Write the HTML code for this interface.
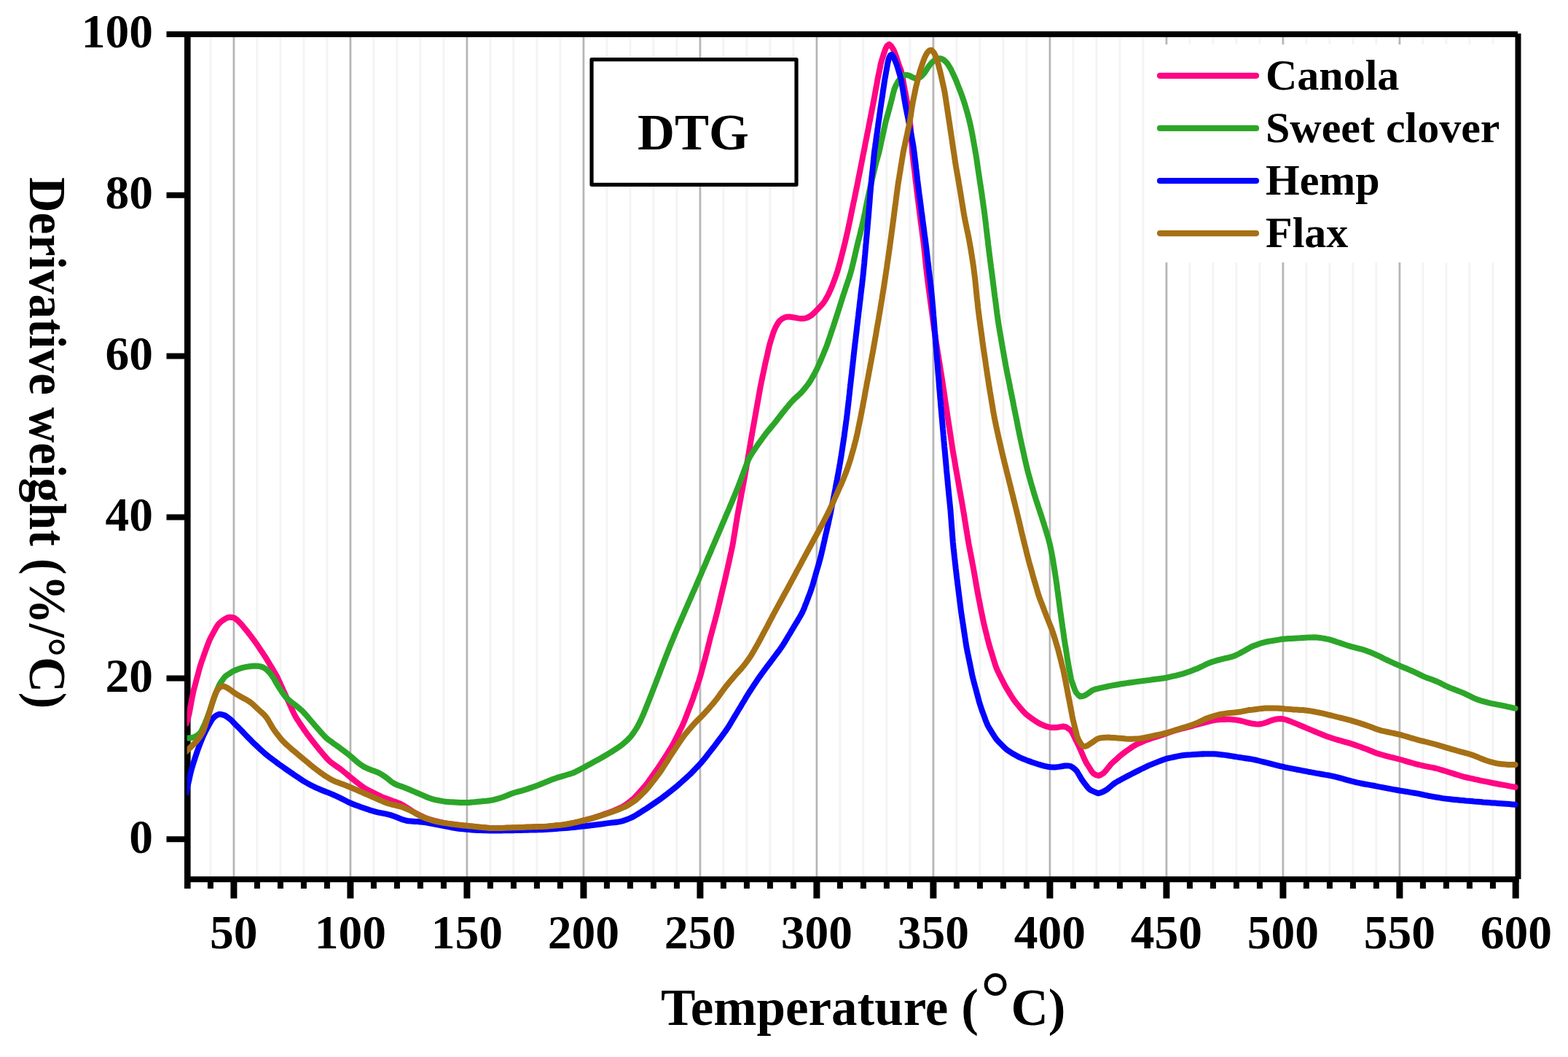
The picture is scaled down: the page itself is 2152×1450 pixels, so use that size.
<!DOCTYPE html>
<html lang="en">
<head>
<meta charset="utf-8">
<title>DTG curves</title>
<style>
html,body{margin:0;padding:0;background:#fff;}
body{width:2152px;height:1450px;overflow:hidden;}
svg{display:block;}
text{font-family:"Liberation Serif","Times New Roman",Times,serif;font-weight:bold;fill:#000;}
.tk{font-size:65.5px;}
.lg{font-size:60px;}
.ax{font-size:71px;}
.ay{font-size:71.5px;}
.dtg{font-size:70.5px;}
.rg{font-weight:normal;}
</style>
</head>
<body>
<svg width="2152" height="1450" viewBox="0 0 2152 1450">
<rect width="2152" height="1450" fill="#fff"/>
<path d="M288.9 50V1203M352.9 50V1203M384.9 50V1203M416.9 50V1203M448.9 50V1203M512.9 50V1203M544.9 50V1203M576.9 50V1203M608.9 50V1203M672.9 50V1203M704.9 50V1203M736.9 50V1203M768.9 50V1203M832.9 50V1203M864.9 50V1203M896.9 50V1203M928.9 50V1203M992.9 50V1203M1024.9 50V1203M1056.9 50V1203M1088.9 50V1203M1152.9 50V1203M1184.9 50V1203M1216.9 50V1203M1248.9 50V1203M1312.9 50V1203M1344.9 50V1203M1376.9 50V1203M1408.9 50V1203M1472.9 50V1203M1504.9 50V1203M1536.9 50V1203M1568.9 50V1203M1632.9 50V1203M1664.9 50V1203M1696.9 50V1203M1728.9 50V1203M1792.9 50V1203M1824.9 50V1203M1856.9 50V1203M1888.9 50V1203M1952.9 50V1203M1984.9 50V1203M2016.9 50V1203M2048.9 50V1203" stroke="#f4f4f4" stroke-width="3" fill="none"/>
<path d="M320.9 50V1203M480.9 50V1203M640.9 50V1203M800.9 50V1203M960.9 50V1203M1120.9 50V1203M1280.9 50V1203M1440.9 50V1203M1600.9 50V1203M1760.9 50V1203M1920.9 50V1203" stroke="#d6d6d6" stroke-width="3.4" fill="none"/>
<path d="M320.9 50V1203M480.9 50V1203M640.9 50V1203M800.9 50V1203M960.9 50V1203M1120.9 50V1203M1280.9 50V1203M1440.9 50V1203M1600.9 50V1203M1760.9 50V1203M1920.9 50V1203" stroke="#a8a8a8" stroke-width="1.4" fill="none"/>
<rect x="1575" y="61" width="501" height="299" fill="#fff"/>
<g stroke="#000" stroke-width="8" fill="none">
<path d="M228.5 46.9H2083"/>
<path d="M257.3 42.9V1219" stroke-width="8.6"/>
<path d="M253 1206.2H2084.5"/>
<path d="M2083.5 45.9V1206"/>
<path d="M228.5 1151.3H257M228.5 930.4H257M228.5 709.5H257M228.5 488.6H257M228.5 267.7H257"/>
<path d="M288.9 1206V1219M352.9 1206V1219M384.9 1206V1219M416.9 1206V1219M448.9 1206V1219M512.9 1206V1219M544.9 1206V1219M576.9 1206V1219M608.9 1206V1219M672.9 1206V1219M704.9 1206V1219M736.9 1206V1219M768.9 1206V1219M832.9 1206V1219M864.9 1206V1219M896.9 1206V1219M928.9 1206V1219M992.9 1206V1219M1024.9 1206V1219M1056.9 1206V1219M1088.9 1206V1219M1152.9 1206V1219M1184.9 1206V1219M1216.9 1206V1219M1248.9 1206V1219M1312.9 1206V1219M1344.9 1206V1219M1376.9 1206V1219M1408.9 1206V1219M1472.9 1206V1219M1504.9 1206V1219M1536.9 1206V1219M1568.9 1206V1219M1632.9 1206V1219M1664.9 1206V1219M1696.9 1206V1219M1728.9 1206V1219M1792.9 1206V1219M1824.9 1206V1219M1856.9 1206V1219M1888.9 1206V1219M1952.9 1206V1219M1984.9 1206V1219M2016.9 1206V1219M2048.9 1206V1219"/>
<path d="M320.9 1206V1232.6M480.9 1206V1232.6M640.9 1206V1232.6M800.9 1206V1232.6M960.9 1206V1232.6M1120.9 1206V1232.6M1280.9 1206V1232.6M1440.9 1206V1232.6M1600.9 1206V1232.6M1760.9 1206V1232.6M1920.9 1206V1232.6M2080.2 1206V1232.6" stroke-width="9"/>
</g>
<clipPath id="pc"><rect x="256.6" y="40" width="1850" height="1170"/></clipPath>
<g fill="none" stroke-width="8.0" stroke-linecap="round" stroke-linejoin="round" clip-path="url(#pc)">
<path d="M255.5 993L256.8 989.2L258 985.4L259 981.5L259.9 977.6L260.6 973.7L261.3 969.8L262.1 965.8L262.8 961.9L263.5 958L264.3 954L265.1 950.1L266 946.2L267 942.4L268.1 938.5L269.1 934.6L270.1 930.8L271.2 926.9L272.2 923L273.2 919.2L274.3 915.3L275.5 911.5L276.7 907.7L278.1 903.9L279.4 900.2L280.7 896.4L282.1 892.6L283.4 888.9L284.8 885.1L286.2 881.4L287.7 877.7L289.5 874.1L291.4 870.6L293.3 867.1L295.2 863.6L297.2 860.1L299.4 856.8L302 854L305.1 851.5L308.4 849.3L311.8 847.5L315.5 846.7L319.2 846.9L322.6 848.3L325.6 850.7L328.4 853.5L331.2 856.4L333.8 859.4L336.3 862.5L338.8 865.6L341.3 868.8L343.7 871.9L346.2 875.1L348.6 878.3L350.9 881.5L353.2 884.8L355.4 888.1L357.6 891.5L359.9 894.8L362.1 898.1L364.3 901.5L366.4 904.9L368.5 908.3L370.5 911.7L372.6 915.1L374.6 918.6L376.7 922L378.7 925.5L380.6 929L382.3 932.6L384 936.2L385.6 939.9L387.3 943.5L388.9 947.2L390.6 950.8L392.2 954.4L393.9 958.1L395.6 961.7L397.2 965.4L398.9 969L400.5 972.7L402.2 976.3L403.9 979.9L405.8 983.4L407.9 986.8L410.1 990.1L412.3 993.5L414.5 996.8L416.8 1000.1L419 1003.4L421.4 1006.7L423.8 1009.8L426.2 1013L428.7 1016.2L431.1 1019.3L433.6 1022.5L436.1 1025.6L438.6 1028.7L441.2 1031.8L443.8 1034.8L446.4 1037.9L449 1040.9L451.8 1043.7L454.8 1046.3L458 1048.6L461.3 1050.9L464.6 1053.1L467.9 1055.5L471 1058L474.1 1060.5L477.2 1063.1L480.2 1065.6L483.3 1068.1L486.5 1070.6L489.6 1073.1L492.8 1075.6L495.9 1078L499.2 1080.3L502.6 1082.4L506.1 1084.3L509.7 1086.1L513.2 1087.9L516.8 1089.7L520.4 1091.4L524 1093.1L527.7 1094.6L531.5 1096L535.2 1097.3L539 1098.7L542.8 1100L546.5 1101.4L550.2 1103L553.6 1104.9L557 1107.1L560.4 1109.2L563.7 1111.4L567.1 1113.6L570.6 1115.6L574.1 1117.4L577.7 1119.1L581.3 1120.8L585 1122.4L588.7 1123.8L592.5 1124.9L596.4 1125.9L600.3 1126.8L604.2 1127.8L608.1 1128.7L612 1129.5L616 1130.1L619.9 1130.6L623.9 1131L627.9 1131.5L631.8 1131.9L635.8 1132.4L639.8 1132.8L643.8 1133.3L647.8 1133.7L651.7 1134.1L655.7 1134.5L659.7 1134.9L663.7 1135.2L667.7 1135.6L671.7 1135.9L675.6 1136.1L679.6 1136.1L683.6 1136.1L687.6 1136L691.6 1135.9L695.6 1135.8L699.6 1135.7L703.6 1135.6L707.6 1135.4L711.6 1135.3L715.6 1135.1L719.6 1135L723.6 1134.8L727.6 1134.7L731.6 1134.6L735.6 1134.4L739.6 1134.3L743.6 1134.2L747.6 1134L751.6 1133.8L755.6 1133.4L759.6 1133L763.5 1132.6L767.5 1132.2L771.5 1131.8L775.5 1131.3L779.4 1130.5L783.3 1129.7L787.2 1128.9L791.1 1128L795 1127L798.9 1126L802.8 1125.1L806.6 1124.1L810.5 1123.1L814.3 1122L818.1 1120.7L821.9 1119.5L825.7 1118.2L829.5 1116.9L833.3 1115.6L837.1 1114.2L840.8 1112.8L844.5 1111.2L848.1 1109.6L851.8 1108L855.3 1106.2L858.6 1104L861.8 1101.6L865 1099.2L868.1 1096.7L871.1 1094L873.8 1091.1L876.5 1088.1L879.1 1085.1L881.8 1082.1L884.4 1079.1L887 1076L889.4 1072.9L891.7 1069.6L894 1066.4L896.3 1063.1L898.6 1059.8L900.9 1056.5L903.2 1053.3L905.5 1049.9L907.6 1046.6L909.8 1043.2L912 1039.9L914.1 1036.5L916.3 1033.1L918.4 1029.7L920.5 1026.3L922.6 1022.9L924.5 1019.4L926.3 1015.9L928.1 1012.3L929.9 1008.7L931.7 1005.1L933.5 1001.5L935.3 998L937 994.4L938.6 990.7L940.1 987L941.6 983.3L943 979.5L944.4 975.8L945.9 972.1L947.3 968.3L948.7 964.6L950.1 960.8L951.5 957.1L952.7 953.3L954 949.5L955.3 945.7L956.5 941.9L957.8 938.1L959.1 934.3L960.3 930.5L961.4 926.7L962.5 922.8L963.5 918.9L964.6 915.1L965.6 911.2L966.7 907.4L967.7 903.5L968.7 899.6L969.7 895.7L970.7 891.9L971.6 888L972.6 884.1L973.6 880.2L974.5 876.3L975.5 872.5L976.6 868.6L977.6 864.7L978.7 860.9L979.7 857L980.8 853.2L981.8 849.3L982.8 845.4L983.8 841.6L984.8 837.7L985.7 833.8L986.6 829.9L987.6 826L988.5 822.1L989.4 818.2L990.4 814.3L991.3 810.4L992.2 806.5L993.2 802.7L994.1 798.8L995 794.9L995.9 791L996.8 787.1L997.7 783.2L998.6 779.3L999.4 775.4L1000.3 771.5L1001.2 767.5L1002 763.6L1002.9 759.7L1003.8 755.8L1004.6 751.9L1005.4 748L1006.1 744.1L1006.8 740.1L1007.4 736.2L1008.1 732.2L1008.7 728.3L1009.4 724.3L1010 720.4L1010.6 716.4L1011.3 712.5L1011.9 708.5L1012.6 704.6L1013.3 700.7L1014.1 696.7L1014.8 692.8L1015.5 688.9L1016.3 684.9L1017 681L1017.7 677.1L1018.5 673.1L1019.2 669.2L1019.9 665.3L1020.7 661.3L1021.4 657.4L1022.1 653.5L1022.8 649.5L1023.5 645.6L1024.2 641.6L1024.9 637.7L1025.6 633.8L1026.3 629.8L1026.9 625.9L1027.6 621.9L1028.3 618L1028.9 614L1029.6 610.1L1030.2 606.1L1030.9 602.2L1031.6 598.3L1032.3 594.3L1033 590.4L1033.7 586.4L1034.4 582.5L1035.1 578.6L1035.8 574.6L1036.5 570.7L1037.2 566.8L1037.9 562.8L1038.6 558.9L1039.3 554.9L1040 551L1040.7 547.1L1041.4 543.1L1042.1 539.2L1042.8 535.2L1043.5 531.3L1044.3 527.4L1045.1 523.5L1045.9 519.6L1046.7 515.6L1047.6 511.7L1048.4 507.8L1049.2 503.9L1050 500L1050.9 496.1L1051.8 492.2L1052.7 488.3L1053.6 484.4L1054.4 480.5L1055.3 476.6L1056.3 472.7L1057.4 468.8L1058.6 465L1059.8 461.2L1061 457.4L1062.4 453.6L1064 450L1065.8 446.5L1067.8 443L1070.1 440L1073.1 437.5L1076.5 435.7L1080.2 434.7L1084 434.6L1087.9 435.2L1091.9 435.9L1095.8 436.6L1099.7 437.1L1103.5 437L1107.3 436L1110.8 434.4L1114.1 432.2L1117 429.6L1119.8 426.7L1122.6 423.8L1125.3 420.9L1128 418L1130.5 414.9L1132.7 411.6L1134.7 408.1L1136.6 404.6L1138.3 401L1139.9 397.3L1141.5 393.7L1143 389.9L1144.4 386.2L1145.8 382.5L1147.1 378.7L1148.4 374.9L1149.6 371.1L1150.7 367.3L1151.8 363.4L1152.9 359.6L1153.9 355.7L1154.9 351.8L1155.9 348L1156.9 344.1L1157.9 340.2L1158.8 336.3L1159.8 332.4L1160.7 328.5L1161.6 324.6L1162.5 320.7L1163.4 316.8L1164.2 312.9L1165 309L1165.9 305.1L1166.7 301.2L1167.5 297.3L1168.3 293.3L1169.1 289.4L1169.9 285.5L1170.7 281.6L1171.5 277.7L1172.4 273.8L1173.2 269.8L1174 265.9L1174.8 262L1175.6 258.1L1176.4 254.2L1177.2 250.2L1177.9 246.3L1178.7 242.4L1179.5 238.5L1180.3 234.5L1181 230.6L1181.8 226.7L1182.6 222.8L1183.4 218.8L1184.1 214.9L1184.9 211L1185.7 207.1L1186.5 203.1L1187.2 199.2L1188 195.3L1188.8 191.4L1189.6 187.4L1190.3 183.5L1191.1 179.6L1191.9 175.7L1192.6 171.7L1193.4 167.8L1194.2 163.9L1194.9 160L1195.7 156L1196.5 152.1L1197.2 148.2L1198 144.3L1198.7 140.3L1199.5 136.4L1200.2 132.5L1200.9 128.5L1201.6 124.6L1202.3 120.6L1203.1 116.7L1203.8 112.8L1204.5 108.8L1205.3 104.9L1206.1 101L1206.9 97.1L1207.7 93.2L1208.4 89.2L1209.4 85.3L1210.5 81.5L1211.7 77.7L1212.9 73.9L1214.2 70.1L1215.6 66.4L1217.4 62.9L1220.1 60.8L1222.9 62.9L1225.1 66.2L1227 69.7L1228.5 73.4L1229.9 77.2L1231.1 81L1232.3 84.8L1233.6 88.6L1235 92.3L1236.4 96L1237.5 99.9L1238.3 103.8L1239 107.7L1239.7 111.7L1240.4 115.6L1241.1 119.5L1241.8 123.5L1242.6 127.4L1243.3 131.3L1244 135.3L1244.7 139.2L1245.5 143.2L1246.2 147.1L1246.8 151L1247.3 155L1247.8 159L1248.3 162.9L1248.8 166.9L1249.3 170.9L1249.7 174.9L1250 178.9L1250.3 182.8L1250.6 186.8L1250.8 190.8L1251.1 194.8L1251.4 198.8L1251.6 202.8L1251.9 206.8L1252.3 210.8L1252.8 214.7L1253.2 218.7L1253.7 222.7L1254.2 226.7L1254.6 230.6L1255.1 234.6L1255.6 238.6L1256 242.6L1256.5 246.5L1257 250.5L1257.5 254.5L1257.9 258.4L1258.4 262.4L1258.9 266.4L1259.4 270.4L1259.9 274.3L1260.4 278.3L1260.9 282.3L1261.4 286.2L1261.9 290.2L1262.4 294.2L1262.9 298.1L1263.4 302.1L1263.9 306.1L1264.5 310L1265 314L1265.5 318L1266 321.9L1266.6 325.9L1267.1 329.9L1267.6 333.8L1268 337.8L1268.5 341.8L1268.9 345.8L1269.3 349.8L1269.7 353.7L1270.1 357.7L1270.5 361.7L1270.9 365.7L1271.4 369.6L1271.8 373.6L1272.3 377.6L1272.8 381.6L1273.3 385.5L1273.8 389.5L1274.3 393.5L1274.8 397.4L1275.4 401.4L1275.9 405.4L1276.4 409.3L1276.9 413.3L1277.5 417.3L1278 421.2L1278.5 425.2L1279.1 429.2L1279.6 433.1L1280.1 437.1L1280.6 441.1L1281.2 445L1281.7 449L1282.3 452.9L1282.9 456.9L1283.5 460.9L1284.1 464.8L1284.7 468.8L1285.3 472.7L1286 476.7L1286.6 480.6L1287.2 484.6L1287.9 488.5L1288.5 492.5L1289.1 496.4L1289.8 500.4L1290.4 504.3L1291 508.3L1291.6 512.2L1292.3 516.2L1292.9 520.1L1293.5 524.1L1294.1 528L1294.7 532L1295.3 535.9L1295.9 539.9L1296.5 543.9L1297 547.8L1297.6 551.8L1298.2 555.7L1298.8 559.7L1299.4 563.6L1300 567.6L1300.6 571.6L1301.2 575.5L1301.8 579.5L1302.4 583.4L1303 587.4L1303.6 591.3L1304.2 595.3L1304.8 599.2L1305.4 603.2L1306 607.2L1306.6 611.1L1307.2 615.1L1307.8 619L1308.5 623L1309.2 626.9L1309.9 630.8L1310.6 634.8L1311.2 638.7L1311.9 642.7L1312.6 646.6L1313.3 650.5L1314 654.5L1314.7 658.4L1315.4 662.4L1316.1 666.3L1316.8 670.2L1317.5 674.2L1318.2 678.1L1318.9 682.1L1319.6 686L1320.3 689.9L1321 693.9L1321.6 697.8L1322.3 701.8L1323 705.7L1323.6 709.7L1324.2 713.6L1324.9 717.6L1325.5 721.5L1326.1 725.5L1326.8 729.4L1327.4 733.4L1328.1 737.3L1328.7 741.3L1329.4 745.2L1330.1 749.1L1330.9 753.1L1331.6 757L1332.4 760.9L1333.1 764.8L1333.9 768.8L1334.6 772.7L1335.4 776.6L1336.1 780.6L1336.8 784.5L1337.5 788.5L1338.2 792.4L1338.9 796.3L1339.5 800.3L1340.2 804.2L1340.9 808.2L1341.6 812.1L1342.4 816L1343.1 820L1343.9 823.9L1344.7 827.8L1345.4 831.7L1346.2 835.7L1347 839.6L1347.8 843.5L1348.6 847.4L1349.4 851.3L1350.2 855.2L1351.2 859.1L1352.1 863L1353.1 866.9L1354.1 870.8L1355 874.7L1356 878.5L1357 882.4L1358.1 886.3L1359.2 890.1L1360.4 893.9L1361.6 897.8L1362.8 901.6L1363.9 905.4L1365.1 909.2L1366.3 913L1367.7 916.8L1369.3 920.4L1371 924L1372.8 927.6L1374.6 931.2L1376.4 934.8L1378.2 938.3L1380.1 941.9L1382.1 945.3L1384.2 948.7L1386.3 952.1L1388.4 955.5L1390.6 958.9L1392.9 962.1L1395.4 965.3L1397.9 968.3L1400.5 971.4L1403.1 974.4L1405.8 977.3L1408.7 980.1L1411.8 982.5L1415.1 984.9L1418.3 987.2L1421.6 989.5L1425 991.6L1428.5 993.4L1432.2 995L1435.9 996.4L1439.7 997.5L1443.6 998.1L1447.5 998.1L1451.5 997.7L1455.4 997.1L1459.2 996.5L1462.8 997.2L1466.1 999.3L1469.2 1001.7L1471.5 1004.9L1473.3 1008.5L1475 1012.1L1476.8 1015.7L1478.6 1019.2L1480.3 1022.8L1482 1026.5L1483.6 1030.2L1485.1 1033.8L1486.7 1037.5L1488.3 1041.2L1490 1044.8L1492 1048.3L1494.2 1051.6L1496.3 1055L1498.4 1058.4L1501 1061.3L1504.4 1063.2L1508 1064.1L1511.5 1062.5L1514.8 1060.4L1517.5 1057.4L1520 1054.3L1522.5 1051.2L1525 1048.1L1527.9 1045.4L1530.9 1042.7L1533.9 1040L1536.9 1037.3L1539.9 1034.7L1543.1 1032.3L1546.3 1030L1549.6 1027.7L1552.9 1025.4L1556.2 1023.2L1559.7 1021.2L1563.3 1019.5L1567 1018L1570.6 1016.4L1574.3 1014.9L1578.1 1013.6L1581.9 1012.3L1585.7 1011.1L1589.5 1009.9L1593.4 1008.7L1597.1 1007.5L1600.9 1006.1L1604.7 1004.8L1608.5 1003.5L1612.3 1002.2L1616.1 1001.1L1620 1000.1L1623.9 999.2L1627.7 998.2L1631.6 997.2L1635.5 996.1L1639.3 995L1643.2 994L1647 992.9L1650.9 991.8L1654.8 990.8L1658.6 989.8L1662.5 988.9L1666.1 988L1669.4 987.5L1672.6 987.3L1676.2 987.1L1680.2 986.9L1684.1 986.8L1688.1 986.8L1692.1 987.2L1696.1 987.6L1700 988.2L1703.9 989L1707.8 990L1711.7 991.1L1715.5 992L1719.5 992.8L1723.4 993.3L1727.3 993.4L1731.2 993L1735 992L1738.8 990.7L1742.5 989.2L1746.3 987.9L1750.1 986.8L1754 986.3L1758 986.1L1761.8 986.5L1765.6 987.5L1769.4 988.9L1773.1 990.4L1776.8 991.9L1780.5 993.4L1784.2 995L1787.9 996.5L1791.6 998.1L1795.2 999.6L1798.9 1001.1L1802.6 1002.7L1806.3 1004.2L1810 1005.8L1813.7 1007.3L1817.4 1008.8L1821.2 1010.2L1825 1011.5L1828.7 1012.7L1832.6 1014L1836.4 1015.1L1840.2 1016.2L1844.1 1017.3L1847.9 1018.3L1851.8 1019.4L1855.6 1020.6L1859.4 1021.9L1863.2 1023.2L1867 1024.5L1870.7 1025.9L1874.5 1027.3L1878.2 1028.8L1881.9 1030.3L1885.6 1031.8L1889.3 1033.2L1893.1 1034.4L1897 1035.5L1900.8 1036.6L1904.7 1037.6L1908.6 1038.6L1912.5 1039.5L1916.3 1040.5L1920.2 1041.5L1924.1 1042.5L1927.9 1043.7L1931.7 1044.8L1935.6 1045.9L1939.4 1047L1943.3 1048.1L1947.2 1049L1951.1 1050L1955 1050.9L1958.9 1051.6L1962.8 1052.4L1966.7 1053.1L1970.6 1054L1974.5 1055L1978.3 1056.2L1982.2 1057.3L1986 1058.5L1989.8 1059.7L1993.6 1060.9L1997.4 1062.1L2001.2 1063.3L2005.1 1064.5L2008.9 1065.6L2012.8 1066.5L2016.7 1067.4L2020.6 1068.2L2024.5 1069.1L2028.4 1069.9L2032.3 1070.8L2036.3 1071.6L2040.2 1072.4L2044.1 1073.2L2048 1074L2051.9 1074.7L2055.9 1075.5L2059.8 1076.2L2063.7 1076.9L2067.7 1077.6L2071.6 1078.4L2075.6 1079.1L2079.5 1079.8" stroke="#ff0584"/>
<path d="M255 1012.5L259 1012.5L262.9 1012.1L266.6 1011.1L270 1009.3L273.1 1007L275.6 1004.1L277.5 1000.6L279.2 997L280.9 993.4L282.5 989.7L283.9 986L285.3 982.2L286.6 978.5L288 974.7L289.3 970.9L290.5 967.1L291.8 963.3L293.1 959.5L294.3 955.8L295.7 952L297.3 948.3L298.8 944.6L300.4 940.9L302.2 937.4L304.5 934.1L306.8 930.8L309.3 927.8L312.5 925.5L315.9 923.3L319.2 921.2L322.9 919.5L326.6 918L330.3 916.7L334.2 915.7L338.1 914.9L342 914.3L346 913.7L349.9 913.5L353.9 913.7L357.8 914.4L361.4 915.6L364.7 917.6L367.6 920.2L370.4 923.1L372.8 926.2L375 929.5L377 932.9L379 936.4L381 939.9L383.1 943.3L385.3 946.6L387.5 950L389.8 953.3L392.2 956.4L395 959.1L398.1 961.7L401.2 964.1L404.4 966.6L407.5 969L410.6 971.6L413.7 974.2L416.5 977L419.2 979.9L421.8 982.9L424.4 986L427 989L429.6 992L432.2 995.1L434.9 998.1L437.5 1001.1L440.1 1004.1L442.8 1007.1L445.5 1010L448.4 1012.8L451.5 1015.3L454.7 1017.6L457.9 1020L461.2 1022.3L464.4 1024.6L467.7 1027L470.9 1029.4L474.1 1031.8L477.2 1034.2L480.4 1036.7L483.4 1039.3L486.4 1042L489.4 1044.6L492.5 1047.1L495.7 1049.4L499.1 1051.6L502.6 1053.4L506.3 1055L510 1056.4L513.8 1057.8L517.5 1059.2L521.1 1060.9L524.5 1062.9L527.9 1065.1L531.1 1067.4L534.2 1069.9L537.3 1072.5L540.6 1074.6L544.1 1076.4L547.8 1077.8L551.6 1079.1L555.4 1080.5L559.1 1082L562.8 1083.5L566.4 1085.1L570.1 1086.7L573.8 1088.2L577.5 1089.8L581.2 1091.4L584.8 1093L588.5 1094.5L592.3 1095.8L596.1 1096.8L600 1097.7L604 1098.4L607.9 1099.1L611.8 1099.7L615.8 1100.1L619.8 1100.3L623.8 1100.5L627.8 1100.7L631.8 1100.9L635.8 1101L639.8 1101L643.8 1100.9L647.8 1100.5L651.7 1100.2L655.7 1099.8L659.7 1099.4L663.7 1099L667.7 1098.7L671.6 1098.2L675.6 1097.6L679.5 1096.7L683.3 1095.6L687.1 1094.5L690.9 1093.2L694.7 1091.8L698.4 1090.3L702.1 1088.8L705.8 1087.5L709.7 1086.4L713.5 1085.4L717.4 1084.3L721.2 1083.2L725 1081.9L728.8 1080.6L732.6 1079.3L736.3 1077.9L740.1 1076.5L743.8 1075L747.5 1073.5L751.2 1072L754.9 1070.5L758.6 1069.1L762.4 1067.7L766.2 1066.4L770 1065.3L773.9 1064.2L777.7 1063L781.5 1061.9L785.3 1060.7L789 1059.2L792.6 1057.4L796.1 1055.6L799.6 1053.7L803.2 1051.7L806.7 1049.8L810.2 1047.9L813.7 1046L817.2 1044.1L820.7 1042.2L824.2 1040.2L827.7 1038.2L831.1 1036.2L834.6 1034.2L838 1032.1L841.4 1030L844.7 1027.8L848.1 1025.6L851.4 1023.4L854.6 1020.9L857.6 1018.3L860.6 1015.7L863.4 1012.9L866.1 1009.9L868.5 1006.7L870.7 1003.4L872.9 1000.1L875 996.7L876.8 993.2L878.6 989.6L880.3 985.9L881.9 982.3L883.5 978.6L885 974.9L886.5 971.2L888 967.5L889.5 963.8L891 960.1L892.4 956.4L893.9 952.6L895.3 948.9L896.8 945.2L898.2 941.4L899.7 937.7L901.1 934L902.5 930.2L904 926.5L905.4 922.8L906.8 919L908.3 915.3L909.7 911.6L911.1 907.8L912.6 904.1L914 900.4L915.5 896.6L916.9 892.9L918.4 889.2L919.9 885.5L921.4 881.8L923 878.1L924.5 874.4L926 870.7L927.6 867L929.1 863.3L930.7 859.6L932.3 856L933.9 852.3L935.5 848.6L937.1 845L938.7 841.3L940.3 837.6L941.9 834L943.5 830.3L945.1 826.7L946.7 823L948.3 819.3L949.9 815.7L951.5 812L953.2 808.3L954.8 804.7L956.3 801L957.9 797.3L959.5 793.7L961.1 790L962.7 786.3L964.2 782.6L965.8 778.9L967.4 775.3L969 771.6L970.5 767.9L972.1 764.2L973.7 760.6L975.3 756.9L976.8 753.2L978.4 749.5L980 745.9L981.6 742.2L983.1 738.5L984.7 734.8L986.3 731.1L987.9 727.5L989.4 723.8L991 720.1L992.6 716.4L994.2 712.8L995.7 709.1L997.3 705.4L998.9 701.7L1000.5 698L1002 694.4L1003.6 690.7L1005.1 687L1006.6 683.3L1008.2 679.6L1009.7 675.9L1011.2 672.2L1012.7 668.5L1014.2 664.8L1015.6 661L1017 657.3L1018.4 653.5L1019.8 649.8L1021.2 646L1022.6 642.3L1024 638.6L1025.5 634.8L1026.9 631.1L1028.7 627.5L1030.7 624.1L1032.8 620.7L1035.1 617.4L1037.3 614.1L1039.6 610.8L1041.9 607.5L1044.2 604.3L1046.6 601L1048.9 597.8L1051.3 594.6L1053.8 591.5L1056.4 588.4L1058.9 585.4L1061.5 582.3L1064 579.2L1066.5 576L1068.9 572.8L1071.3 569.7L1073.8 566.5L1076.3 563.4L1078.8 560.3L1081.4 557.2L1083.9 554.1L1086.6 551.1L1089.3 548.2L1092.2 545.5L1095.2 542.8L1098.1 540.1L1100.9 537.2L1103.5 534.2L1106 531.1L1108.5 527.9L1110.8 524.7L1112.9 521.3L1114.9 517.8L1116.9 514.4L1118.8 510.9L1120.6 507.3L1122.3 503.7L1123.9 500L1125.5 496.3L1127.1 492.7L1128.6 489L1130.2 485.3L1131.7 481.6L1133.2 477.9L1134.7 474.2L1136 470.4L1137.3 466.6L1138.6 462.8L1139.9 459L1141.1 455.3L1142.4 451.5L1143.7 447.7L1144.9 443.9L1146.2 440.1L1147.4 436.3L1148.6 432.5L1149.9 428.6L1151.1 424.8L1152.3 421L1153.5 417.2L1154.7 413.4L1155.9 409.6L1157.1 405.8L1158.4 402L1159.6 398.2L1160.8 394.4L1162.1 390.6L1163.4 386.8L1164.7 383L1165.9 379.2L1167.1 375.4L1168.2 371.5L1169.2 367.7L1170.1 363.8L1171.1 359.9L1172 356L1172.9 352.1L1173.8 348.2L1174.7 344.3L1175.6 340.4L1176.5 336.5L1177.5 332.6L1178.4 328.8L1179.4 324.9L1180.4 321L1181.3 317.1L1182.3 313.2L1183.2 309.3L1184.1 305.5L1185 301.6L1185.8 297.6L1186.7 293.7L1187.5 289.8L1188.2 285.9L1189 282L1189.8 278L1190.6 274.1L1191.4 270.2L1192.2 266.3L1193.1 262.4L1194 258.5L1194.9 254.6L1195.8 250.7L1196.7 246.8L1197.6 242.9L1198.6 239L1199.5 235.1L1200.5 231.2L1201.4 227.3L1202.3 223.5L1203.4 219.6L1204.5 215.7L1205.6 211.9L1206.6 208L1207.5 204.1L1208.4 200.2L1209.2 196.3L1210 192.4L1210.9 188.5L1211.7 184.6L1212.6 180.7L1213.4 176.8L1214.3 172.9L1215.1 169L1216.1 165.1L1217.2 161.2L1218.3 157.4L1219.3 153.5L1220.4 149.7L1221.4 145.8L1222.4 141.9L1223.4 138L1224.4 134.2L1225.3 130.3L1226.3 126.4L1227.3 122.5L1228.8 118.9L1230.6 115.3L1232.5 111.8L1234.9 108.5L1237.4 105.5L1240.8 103.5L1244.5 102.8L1248.3 103.8L1251.7 105.8L1255.2 107.2L1259.1 106.9L1262.9 106L1265.8 103.5L1268.4 100.5L1270.7 97.2L1272.8 93.8L1275 90.5L1277.5 87.4L1280.3 84.5L1283.4 82L1286.9 80.4L1290.7 80.2L1294.4 81.6L1297.5 84.1L1300.1 87L1302.3 90.4L1304.4 93.8L1306.2 97.4L1307.9 101L1309.6 104.6L1311.2 108.2L1312.8 111.9L1314.2 115.6L1315.7 119.4L1317.1 123.1L1318.6 126.8L1320 130.6L1321.3 134.4L1322.6 138.1L1323.8 142L1325 145.8L1326.1 149.6L1327.2 153.5L1328.3 157.3L1329.3 161.2L1330.3 165.1L1331.2 169L1332.1 172.9L1332.9 176.8L1333.7 180.7L1334.5 184.6L1335.2 188.6L1335.9 192.5L1336.6 196.4L1337.3 200.4L1338 204.3L1338.7 208.3L1339.4 212.2L1340 216.1L1340.6 220.1L1341.2 224.1L1341.7 228L1342.3 232L1342.9 235.9L1343.5 239.9L1344.1 243.8L1344.7 247.8L1345.3 251.8L1345.9 255.7L1346.5 259.7L1347.1 263.6L1347.7 267.6L1348.2 271.5L1348.8 275.5L1349.4 279.5L1349.9 283.4L1350.5 287.4L1351 291.4L1351.5 295.3L1352 299.3L1352.5 303.3L1353 307.2L1353.4 311.2L1353.9 315.2L1354.4 319.2L1354.8 323.1L1355.3 327.1L1355.8 331.1L1356.2 335L1356.7 339L1357.2 343L1357.7 347L1358.2 350.9L1358.7 354.9L1359.2 358.9L1359.7 362.8L1360.2 366.8L1360.8 370.8L1361.3 374.7L1361.8 378.7L1362.3 382.7L1362.8 386.6L1363.3 390.6L1363.8 394.6L1364.3 398.5L1364.8 402.5L1365.3 406.5L1365.9 410.4L1366.4 414.4L1366.9 418.4L1367.4 422.3L1367.9 426.3L1368.4 430.3L1369 434.2L1369.5 438.2L1370.1 442.2L1370.7 446.1L1371.4 450.1L1372 454L1372.7 457.9L1373.4 461.9L1374.1 465.8L1374.7 469.8L1375.4 473.7L1376.1 477.7L1376.8 481.6L1377.5 485.5L1378.2 489.5L1378.9 493.4L1379.6 497.3L1380.3 501.3L1381.1 505.2L1381.8 509.1L1382.6 513.1L1383.4 517L1384.2 520.9L1385 524.8L1385.8 528.8L1386.5 532.7L1387.3 536.6L1388.1 540.5L1388.9 544.4L1389.7 548.4L1390.5 552.3L1391.2 556.2L1392 560.1L1392.8 564.1L1393.6 568L1394.4 571.9L1395.2 575.8L1396 579.7L1396.7 583.7L1397.5 587.6L1398.3 591.5L1399.1 595.4L1399.9 599.3L1400.8 603.3L1401.6 607.2L1402.5 611.1L1403.3 615L1404.2 618.9L1405.1 622.8L1405.9 626.7L1406.8 630.6L1407.7 634.5L1408.6 638.4L1409.5 642.3L1410.5 646.2L1411.5 650L1412.6 653.9L1413.7 657.7L1414.7 661.6L1415.8 665.4L1417 669.3L1418.1 673.1L1419.2 677L1420.4 680.8L1421.6 684.6L1422.8 688.4L1424.1 692.2L1425.3 696L1426.6 699.8L1427.8 703.6L1429.1 707.4L1430.3 711.2L1431.5 715L1432.7 718.8L1433.9 722.6L1435.1 726.5L1436.3 730.3L1437.4 734.1L1438.6 738L1439.6 741.8L1440.6 745.7L1441.5 749.6L1442.3 753.5L1443.1 757.4L1443.8 761.3L1444.6 765.3L1445.3 769.2L1445.9 773.2L1446.6 777.1L1447.2 781.1L1447.8 785L1448.4 789L1449 792.9L1449.6 796.9L1450.2 800.8L1450.7 804.8L1451.2 808.8L1451.8 812.7L1452.3 816.7L1452.8 820.7L1453.4 824.6L1453.9 828.6L1454.4 832.6L1454.9 836.5L1455.5 840.5L1456.1 844.4L1456.6 848.4L1457.2 852.4L1457.8 856.3L1458.3 860.3L1458.9 864.2L1459.5 868.2L1460 872.2L1460.6 876.1L1461.2 880.1L1461.8 884L1462.5 888L1463.1 891.9L1463.7 895.9L1464.3 899.8L1464.9 903.8L1465.6 907.7L1466.3 911.7L1467 915.6L1467.7 919.5L1468.5 923.5L1469.2 927.4L1470 931.3L1471.1 935.1L1472.5 938.9L1473.8 942.7L1475.2 946.4L1476.9 950L1479.5 953L1482.3 955.5L1485.9 955.1L1489.6 953.7L1492.9 951.6L1496.1 949.2L1499.4 946.9L1503.1 945.5L1507 944.6L1510.9 943.7L1514.8 942.8L1518.7 942L1522.6 941.2L1526.5 940.4L1530.5 939.7L1534.4 939L1538.3 938.3L1542.3 937.7L1546.2 937.1L1550.2 936.5L1554.2 936L1558.1 935.4L1562.1 934.9L1566.1 934.4L1570 933.9L1574 933.4L1578 932.9L1581.9 932.3L1585.9 931.8L1589.9 931.3L1593.8 930.8L1597.8 930.2L1601.7 929.5L1605.6 928.6L1609.5 927.7L1613.4 926.8L1617.3 925.8L1621.2 924.9L1625 923.8L1628.8 922.5L1632.6 921.2L1636.3 919.8L1640 918.3L1643.8 916.9L1647.4 915.2L1651 913.5L1654.6 911.7L1658.2 910L1661.9 908.6L1665.7 907.3L1669.5 906.2L1673.4 905.1L1677.3 904.1L1681.2 903.2L1685.1 902.3L1688.9 901.4L1692.7 900.2L1696.4 898.7L1700 897L1703.6 895.1L1707 893.2L1710.5 891.2L1714 889.2L1717.5 887.3L1721.1 885.8L1724.9 884.4L1728.7 883L1732.5 881.8L1736.3 880.8L1740.2 880L1744.2 879.4L1748.1 878.8L1752.1 878.1L1756 877.4L1759.9 876.8L1763.9 876.4L1767.9 876.1L1771.9 875.9L1775.9 875.7L1779.9 875.5L1783.9 875.3L1787.9 875L1791.9 874.8L1795.9 874.6L1799.9 874.4L1803.8 874.3L1807.8 874.5L1811.8 874.9L1815.7 875.6L1819.7 876.3L1823.6 877.1L1827.4 878.2L1831.2 879.4L1835 880.7L1838.8 881.9L1842.6 883.2L1846.4 884.5L1850.2 885.7L1854 886.9L1857.9 887.9L1861.7 888.9L1865.6 889.9L1869.5 890.9L1873.3 892L1877.1 893.4L1880.8 894.8L1884.5 896.4L1888.1 898L1891.8 899.7L1895.4 901.4L1898.9 903.2L1902.5 905L1906.2 906.7L1909.8 908.3L1913.4 910L1917.1 911.6L1920.8 913.2L1924.5 914.8L1928.1 916.3L1931.8 917.8L1935.5 919.4L1939.2 921L1942.8 922.7L1946.4 924.4L1950 926.2L1953.6 927.9L1957.3 929.4L1961.1 930.8L1964.8 932.1L1968.6 933.5L1972.3 935L1975.9 936.7L1979.5 938.5L1983.1 940.3L1986.7 942L1990.3 943.6L1994 945.1L1997.8 946.5L2001.5 947.9L2005.2 949.4L2008.9 950.9L2012.6 952.6L2016.2 954.3L2019.7 956.1L2023.3 957.8L2027 959.4L2030.8 960.7L2034.6 961.8L2038.5 962.9L2042.3 963.9L2046.2 964.8L2050.1 965.6L2054.1 966.4L2058 967.1L2061.9 967.9L2065.8 968.7L2069.7 969.6L2073.6 970.4L2077.5 971.3L2079.5 971.7" stroke="#2ca628"/>
<path d="M255.5 1087.5L256.4 1083.6L257.2 1079.7L258.1 1075.8L259 1071.9L259.9 1068L260.7 1064.1L261.6 1060.2L262.6 1056.3L263.7 1052.5L264.9 1048.6L266.1 1044.8L267.3 1041L268.5 1037.2L269.8 1033.4L271.1 1029.6L272.5 1025.9L273.9 1022.1L275.3 1018.4L276.8 1014.7L278.3 1011L280 1007.4L281.8 1003.8L283.6 1000.2L285.4 996.6L287.4 993.2L289.4 989.7L291.5 986.3L294.2 983.4L297.5 981.2L300.9 979.7L304.8 980.3L308.6 981.4L311.9 983.6L315.1 986L318.1 988.6L320.8 991.5L323.6 994.4L326.5 997.2L329.3 1000L332.1 1002.9L334.8 1005.8L337.6 1008.7L340.4 1011.6L343.2 1014.4L346 1017.3L348.9 1020.1L351.8 1022.8L354.7 1025.5L357.6 1028.2L360.6 1030.9L363.6 1033.6L366.7 1036.1L369.8 1038.6L373 1041L376.2 1043.4L379.4 1045.8L382.6 1048.2L385.9 1050.5L389.1 1052.8L392.4 1055.1L395.7 1057.4L399 1059.6L402.3 1061.9L405.6 1064.2L409 1066.4L412.3 1068.6L415.6 1070.8L419 1072.9L422.5 1074.9L426 1076.8L429.6 1078.5L433.2 1080.3L436.9 1081.9L440.5 1083.5L444.3 1085L448 1086.4L451.7 1087.9L455.4 1089.4L459.1 1091L462.7 1092.7L466.3 1094.4L469.9 1096.2L473.5 1098L477 1099.8L480.7 1101.5L484.3 1103L488.1 1104.5L491.8 1105.8L495.6 1107.2L499.4 1108.5L503.2 1109.8L506.9 1111.1L510.8 1112.3L514.6 1113.4L518.5 1114.3L522.4 1115.1L526.3 1115.9L530.2 1116.7L534.1 1117.6L537.9 1118.7L541.7 1120.1L545.4 1121.5L549.1 1123L552.9 1124.4L556.7 1125.5L560.6 1126.3L564.5 1126.6L568.5 1126.9L572.5 1127.1L576.5 1127.4L580.5 1127.8L584.4 1128.4L588.4 1129.1L592.3 1129.8L596.2 1130.5L600.2 1131.3L604.1 1132.1L608 1132.9L611.9 1133.6L615.9 1134.4L619.8 1135.2L623.7 1135.9L627.7 1136.5L631.6 1136.9L635.6 1137.3L639.6 1137.7L643.6 1138.1L647.6 1138.5L651.6 1138.7L655.6 1138.9L659.6 1139L663.6 1139.2L667.6 1139.3L671.6 1139.4L675.6 1139.4L679.6 1139.4L683.6 1139.4L687.6 1139.4L691.6 1139.3L695.6 1139.3L699.6 1139.2L703.6 1139.2L707.6 1139.1L711.6 1139L715.6 1138.9L719.6 1138.8L723.6 1138.7L727.6 1138.6L731.6 1138.5L735.6 1138.4L739.6 1138.3L743.6 1138.2L747.6 1138L751.6 1137.8L755.5 1137.6L759.5 1137.2L763.5 1136.9L767.5 1136.6L771.5 1136.3L775.5 1136L779.5 1135.7L783.5 1135.3L787.4 1135L791.4 1134.6L795.4 1134.1L799.4 1133.6L803.3 1133.2L807.3 1132.7L811.3 1132.2L815.3 1131.7L819.2 1131.2L823.2 1130.7L827.2 1130.2L831.1 1129.6L835.1 1129.1L839.1 1128.6L843 1128.2L847 1127.7L850.9 1127.1L854.8 1126.1L858.6 1124.8L862.3 1123.4L866 1121.9L869.6 1120.1L873 1118.1L876.4 1116L879.8 1113.9L883.2 1111.7L886.6 1109.6L889.9 1107.4L893.2 1105.2L896.5 1102.9L899.8 1100.6L903.1 1098.4L906.4 1096.1L909.6 1093.7L912.8 1091.3L916 1088.8L919.1 1086.4L922.3 1083.9L925.4 1081.4L928.5 1078.9L931.5 1076.3L934.5 1073.6L937.5 1070.9L940.5 1068.3L943.4 1065.6L946.4 1062.9L949.3 1060.1L952 1057.2L954.8 1054.3L957.6 1051.4L960.3 1048.5L963 1045.6L965.5 1042.5L968 1039.4L970.5 1036.2L973 1033.1L975.5 1029.9L977.9 1026.8L980.4 1023.6L982.8 1020.4L985.2 1017.2L987.6 1014L990 1010.8L992.3 1007.6L994.7 1004.4L997 1001.1L999.3 997.8L1001.4 994.4L1003.4 991L1005.5 987.5L1007.5 984.1L1009.6 980.7L1011.7 977.2L1013.7 973.8L1015.8 970.4L1017.8 966.9L1019.9 963.5L1022 960.1L1024 956.6L1026.1 953.2L1028.2 949.8L1030.4 946.5L1032.6 943.1L1034.8 939.8L1037 936.5L1039.2 933.1L1041.5 929.8L1043.8 926.6L1046.1 923.3L1048.5 920.1L1050.9 916.9L1053.3 913.7L1055.7 910.5L1058.1 907.3L1060.5 904.1L1062.9 900.9L1065.3 897.7L1067.7 894.5L1070.1 891.3L1072.4 888L1074.6 884.7L1076.7 881.3L1078.8 877.9L1080.8 874.4L1082.9 871L1085 867.6L1087 864.1L1089.1 860.7L1091.1 857.3L1093.2 853.9L1095.2 850.4L1097.3 847L1099.3 843.5L1101.2 840L1102.8 836.4L1104.3 832.7L1105.7 828.9L1107.2 825.2L1108.6 821.5L1110 817.7L1111.5 814L1112.8 810.2L1114.1 806.4L1115.3 802.6L1116.4 798.8L1117.5 794.9L1118.6 791.1L1119.7 787.2L1120.8 783.4L1121.9 779.6L1123.1 775.7L1124.2 771.9L1125.2 768L1126.3 764.1L1127.2 760.3L1128.1 756.4L1129 752.5L1129.9 748.6L1130.8 744.7L1131.7 740.8L1132.5 736.9L1133.4 733L1134.3 729.1L1135.2 725.2L1136.1 721.3L1137 717.3L1137.8 713.4L1138.7 709.5L1139.5 705.6L1140.3 701.7L1141 697.8L1141.8 693.8L1142.6 689.9L1143.4 686L1144.2 682.1L1144.9 678.1L1145.7 674.2L1146.5 670.3L1147.2 666.3L1147.9 662.4L1148.7 658.5L1149.4 654.6L1150.2 650.6L1150.9 646.7L1151.6 642.7L1152.3 638.8L1153 634.9L1153.6 630.9L1154.3 627L1154.9 623L1155.5 619.1L1156.1 615.1L1156.7 611.2L1157.3 607.2L1157.9 603.2L1158.5 599.3L1159 595.3L1159.5 591.4L1160.1 587.4L1160.6 583.4L1161.1 579.5L1161.7 575.5L1162.2 571.5L1162.7 567.5L1163.2 563.6L1163.6 559.6L1164.1 555.6L1164.5 551.7L1165 547.7L1165.4 543.7L1165.9 539.7L1166.3 535.7L1166.7 531.8L1167.2 527.8L1167.6 523.8L1168.1 519.8L1168.5 515.9L1169 511.9L1169.4 507.9L1169.8 503.9L1170.3 500L1170.7 496L1171.2 492L1171.6 488L1172.1 484.1L1172.5 480.1L1173 476.1L1173.4 472.1L1173.9 468.2L1174.4 464.2L1174.8 460.2L1175.3 456.2L1175.8 452.3L1176.2 448.3L1176.7 444.3L1177.2 440.3L1177.6 436.4L1178.1 432.4L1178.5 428.4L1179 424.4L1179.5 420.5L1179.9 416.5L1180.4 412.5L1180.9 408.5L1181.3 404.6L1181.8 400.6L1182.3 396.6L1182.8 392.7L1183.3 388.7L1183.7 384.7L1184.2 380.7L1184.6 376.8L1185 372.8L1185.4 368.8L1185.8 364.8L1186.2 360.8L1186.5 356.8L1186.9 352.9L1187.3 348.9L1187.6 344.9L1188 340.9L1188.3 336.9L1188.7 332.9L1189 329L1189.4 325L1189.8 321L1190.1 317L1190.5 313L1190.8 309L1191.2 305L1191.5 301.1L1191.9 297.1L1192.2 293.1L1192.5 289.1L1192.8 285.1L1193.2 281.1L1193.5 277.1L1193.8 273.1L1194.1 269.2L1194.4 265.2L1194.8 261.2L1195.1 257.2L1195.5 253.2L1195.8 249.2L1196.2 245.2L1196.6 241.3L1197.1 237.3L1197.5 233.3L1197.9 229.3L1198.3 225.3L1198.7 221.4L1199.1 217.4L1199.5 213.4L1199.9 209.4L1200.4 205.4L1201 201.5L1201.5 197.5L1202.1 193.6L1202.6 189.6L1203.2 185.6L1203.8 181.7L1204.3 177.7L1204.9 173.8L1205.4 169.8L1206 165.8L1206.6 161.9L1207.1 157.9L1207.7 153.9L1208.2 150L1208.8 146L1209.4 142.1L1210 138.1L1210.6 134.1L1211.2 130.2L1211.7 126.2L1212.3 122.3L1212.9 118.3L1213.5 114.4L1214.1 110.4L1214.8 106.5L1215.5 102.5L1216.2 98.6L1216.9 94.6L1217.6 90.7L1218.3 86.8L1219.2 82.9L1220.3 79L1222.1 75.5L1224.1 74.9L1226.2 78.1L1227.9 81.7L1229.4 85.4L1230.8 89.1L1232 92.9L1233.2 96.8L1234.3 100.6L1235.4 104.4L1236.5 108.3L1237.3 112.2L1238 116.2L1238.6 120.1L1239.3 124.1L1239.9 128L1240.6 131.9L1241.2 135.9L1241.9 139.8L1242.6 143.8L1243.3 147.7L1244.1 151.6L1244.9 155.6L1245.7 159.5L1246.5 163.4L1247.2 167.3L1248 171.3L1248.8 175.2L1249.6 179.1L1250.3 183L1251.1 187L1251.8 190.9L1252.5 194.8L1253.2 198.8L1253.8 202.7L1254.3 206.7L1254.9 210.7L1255.3 214.6L1255.8 218.6L1256.3 222.6L1256.8 226.6L1257.2 230.5L1257.7 234.5L1258.2 238.5L1258.7 242.4L1259.1 246.4L1259.6 250.4L1260.1 254.4L1260.6 258.3L1261.1 262.3L1261.6 266.3L1262.2 270.2L1262.7 274.2L1263.2 278.2L1263.7 282.1L1264.2 286.1L1264.7 290.1L1265.3 294L1265.8 298L1266.3 302L1266.8 305.9L1267.4 309.9L1267.9 313.9L1268.4 317.8L1268.9 321.8L1269.5 325.8L1270 329.7L1270.5 333.7L1271 337.7L1271.5 341.7L1271.9 345.6L1272.4 349.6L1272.9 353.6L1273.3 357.5L1273.8 361.5L1274.3 365.5L1274.7 369.5L1275.2 373.4L1275.7 377.4L1276.2 381.4L1276.7 385.3L1277.1 389.3L1277.6 393.3L1278 397.3L1278.4 401.3L1278.8 405.2L1279.2 409.2L1279.5 413.2L1279.9 417.2L1280.3 421.2L1280.6 425.2L1280.9 429.1L1281.2 433.1L1281.6 437.1L1281.9 441.1L1282.2 445.1L1282.5 449.1L1282.8 453.1L1283.2 457.1L1283.5 461L1283.8 465L1284.1 469L1284.4 473L1284.8 477L1285.1 481L1285.4 485L1285.7 489L1286 493L1286.4 496.9L1286.7 500.9L1287 504.9L1287.3 508.9L1287.6 512.9L1288 516.9L1288.3 520.9L1288.6 524.9L1288.9 528.8L1289.2 532.8L1289.6 536.8L1289.9 540.8L1290.2 544.8L1290.6 548.8L1290.9 552.8L1291.2 556.8L1291.6 560.7L1291.9 564.7L1292.3 568.7L1292.6 572.7L1293 576.7L1293.3 580.7L1293.7 584.7L1294 588.6L1294.4 592.6L1294.7 596.6L1295.1 600.6L1295.4 604.6L1295.8 608.6L1296.1 612.6L1296.5 616.5L1296.9 620.5L1297.2 624.5L1297.6 628.5L1298 632.5L1298.3 636.5L1298.7 640.5L1299 644.4L1299.4 648.4L1299.8 652.4L1300.2 656.4L1300.6 660.4L1300.9 664.4L1301.3 668.3L1301.7 672.3L1302.1 676.3L1302.5 680.3L1302.9 684.3L1303.3 688.2L1303.7 692.2L1304.1 696.2L1304.5 700.2L1304.8 704.2L1305.1 708.2L1305.4 712.2L1305.7 716.1L1306 720.1L1306.3 724.1L1306.6 728.1L1306.9 732.1L1307.2 736.1L1307.5 740.1L1307.8 744.1L1308.2 748L1308.6 752L1309.1 756L1309.5 760L1309.9 764L1310.4 767.9L1310.8 771.9L1311.3 775.9L1311.7 779.9L1312.2 783.8L1312.6 787.8L1313.1 791.8L1313.6 795.8L1314.1 799.7L1314.6 803.7L1315.1 807.7L1315.6 811.6L1316.1 815.6L1316.6 819.6L1317.1 823.5L1317.6 827.5L1318.1 831.5L1318.6 835.5L1319.1 839.4L1319.7 843.4L1320.3 847.3L1320.9 851.3L1321.5 855.2L1322.1 859.2L1322.7 863.2L1323.3 867.1L1323.9 871.1L1324.5 875L1325.1 879L1325.7 882.9L1326.3 886.9L1327.1 890.8L1327.8 894.7L1328.7 898.7L1329.5 902.6L1330.3 906.5L1331.1 910.4L1331.9 914.3L1332.7 918.3L1333.5 922.2L1334.3 926.1L1335.2 930L1336.2 933.9L1337.2 937.7L1338.2 941.6L1339.3 945.5L1340.3 949.3L1341.3 953.2L1342.4 957.1L1343.4 960.9L1344.5 964.8L1345.7 968.6L1347 972.4L1348.3 976.1L1349.7 979.9L1351.1 983.7L1352.4 987.4L1353.9 991.1L1355.5 994.8L1357.4 998.3L1359.5 1001.7L1361.6 1005.1L1363.7 1008.5L1365.9 1011.8L1368.3 1015L1371 1017.9L1373.8 1020.8L1376.6 1023.6L1379.5 1026.4L1382.5 1029L1385.8 1031.2L1389.2 1033.3L1392.6 1035.3L1396.1 1037.2L1399.7 1039.1L1403.3 1040.7L1407.1 1042.1L1410.8 1043.6L1414.6 1044.9L1418.3 1046.3L1422.1 1047.5L1425.9 1048.7L1429.8 1049.8L1433.6 1050.8L1437.5 1051.7L1441.5 1052.2L1445.5 1052.4L1449.4 1052.4L1453.4 1051.9L1457.3 1051.2L1461.2 1050.5L1465.1 1050.4L1469 1050.9L1472.4 1052.8L1475.5 1055.3L1478.1 1058.2L1480.2 1061.7L1482.2 1065.1L1484.2 1068.6L1486.5 1071.9L1488.9 1075.1L1491.3 1078.2L1493.8 1081.4L1496.8 1083.8L1500.4 1085.5L1504.1 1087.2L1507.7 1088.3L1511.4 1087.1L1515.1 1085.5L1518.5 1083.6L1521.6 1081.1L1524.7 1078.5L1527.7 1075.9L1531 1073.6L1534.4 1071.6L1538 1069.7L1541.5 1067.8L1545 1065.9L1548.5 1064.1L1552.1 1062.2L1555.7 1060.4L1559.2 1058.6L1562.8 1056.8L1566.4 1055L1570 1053.3L1573.6 1051.5L1577.2 1049.9L1580.9 1048.4L1584.7 1046.9L1588.4 1045.4L1592.1 1043.9L1595.8 1042.5L1599.6 1041.2L1603.4 1040.1L1607.3 1039.3L1611.3 1038.5L1615.2 1037.7L1619.1 1036.9L1623 1036.2L1627 1035.7L1631 1035.4L1635 1035.2L1639 1034.9L1643 1034.7L1646.9 1034.5L1650.3 1034.3L1651.9 1034.2L1650.9 1034.2L1649.7 1034.4L1650.8 1034.4L1654 1034.3L1657.9 1034.2L1661.9 1034.2L1665.9 1034.3L1669.9 1034.6L1673.9 1035L1677.9 1035.4L1681.8 1035.9L1685.8 1036.5L1689.7 1037.1L1693.7 1037.7L1697.6 1038.4L1701.6 1039L1705.5 1039.6L1709.5 1040.2L1713.5 1040.8L1717.4 1041.4L1721.3 1042.1L1725.2 1043L1729.1 1044L1733 1045L1736.9 1045.9L1740.8 1046.9L1744.6 1047.9L1748.5 1048.9L1752.4 1049.8L1756.3 1050.8L1760.2 1051.7L1764.1 1052.6L1768 1053.4L1771.9 1054.1L1775.9 1054.9L1779.8 1055.7L1783.7 1056.4L1787.6 1057.2L1791.6 1057.9L1795.5 1058.7L1799.4 1059.4L1803.4 1060.1L1807.3 1060.9L1811.3 1061.5L1815.2 1062.2L1819.1 1062.9L1823.1 1063.5L1827 1064.3L1830.9 1065.1L1834.8 1066.1L1838.7 1067.2L1842.5 1068.2L1846.4 1069.3L1850.2 1070.3L1854.1 1071.4L1858 1072.4L1861.8 1073.4L1865.7 1074.2L1869.7 1075L1873.6 1075.7L1877.6 1076.4L1881.5 1077.1L1885.4 1077.8L1889.4 1078.6L1893.3 1079.4L1897.2 1080.1L1901.1 1080.9L1905.1 1081.7L1909 1082.4L1912.9 1083.1L1916.9 1083.8L1920.8 1084.5L1924.8 1085.1L1928.7 1085.8L1932.7 1086.4L1936.6 1087.1L1940.6 1087.7L1944.5 1088.4L1948.4 1089.2L1952.3 1090L1956.2 1090.8L1960.2 1091.7L1964.1 1092.4L1968 1093.1L1972 1093.8L1975.9 1094.4L1979.9 1095.1L1983.8 1095.6L1987.8 1096.1L1991.8 1096.5L1995.8 1096.9L1999.7 1097.3L2003.7 1097.7L2007.7 1098.1L2011.7 1098.5L2015.7 1098.8L2019.7 1099.1L2023.6 1099.5L2027.6 1099.8L2031.6 1100.1L2035.6 1100.5L2039.6 1100.8L2043.6 1101.1L2047.6 1101.4L2051.6 1101.6L2055.6 1101.9L2059.6 1102.2L2063.5 1102.5L2067.5 1102.8L2071.5 1103.1L2075.5 1103.4L2079.5 1103.8" stroke="#0404ff"/>
<path d="M255 1031.2L257.9 1028.5L260.8 1025.8L263.7 1023L266.6 1020.2L269.3 1017.2L271.8 1014.2L274.2 1011L276.3 1007.6L278.2 1004.1L279.8 1000.4L281.1 996.7L282.4 992.9L283.6 989.1L284.9 985.3L286.1 981.5L287.3 977.6L288.4 973.8L289.6 970L290.7 966.1L291.9 962.3L293.2 958.5L294.6 954.8L296 951L297.7 947.4L300.1 944.3L303.1 941.9L306.8 941.2L310.4 942.7L313.8 944.7L317.1 947.1L320.3 949.4L323.6 951.7L327 953.8L330.5 955.7L334 957.7L337.5 959.6L341 961.6L344.3 963.8L347.3 966.4L350.2 969.1L353.1 971.9L356.1 974.6L359 977.3L362 980L364.7 982.9L367 986.1L369 989.5L371 993L373 996.4L375.1 999.8L377.4 1003.1L379.8 1006.3L382.3 1009.4L384.7 1012.6L387.3 1015.6L390.1 1018.5L393 1021.2L396 1023.9L399 1026.5L402 1029.2L405.1 1031.7L408.2 1034.3L411.2 1036.9L414.3 1039.4L417.4 1042L420.5 1044.5L423.5 1047.1L426.6 1049.7L429.7 1052.2L432.9 1054.6L436.1 1057.1L439.3 1059.4L442.5 1061.8L445.8 1064.1L449.2 1066.2L452.6 1068.3L456.1 1070.2L459.7 1071.9L463.4 1073.3L467.2 1074.7L470.9 1076.1L474.7 1077.5L478.4 1079L482.1 1080.5L485.8 1082.1L489.4 1083.7L493.1 1085.3L496.8 1086.9L500.4 1088.5L504.1 1090.1L507.8 1091.7L511.4 1093.3L515.1 1094.9L518.8 1096.5L522.4 1098.1L526.1 1099.7L529.8 1101.2L533.6 1102.5L537.4 1103.5L541.3 1104.4L545.2 1105.3L549.1 1106.3L552.9 1107.5L556.6 1109L560.3 1110.6L563.9 1112.2L567.5 1114L571 1116L574.4 1118L577.9 1119.9L581.6 1121.5L585.3 1122.9L589.1 1124.1L592.9 1125.3L596.8 1126.4L600.6 1127.4L604.6 1128.1L608.5 1128.8L612.5 1129.4L616.4 1130L620.4 1130.5L624.4 1131.1L628.3 1131.6L632.3 1132L636.3 1132.4L640.3 1132.8L644.3 1133.2L648.2 1133.6L652.2 1134L656.2 1134.4L660.2 1134.8L664.2 1135.2L668.1 1135.6L672.1 1135.9L676.1 1136.1L680.1 1136.1L684.1 1136L688.1 1135.9L692.1 1135.7L696.1 1135.6L700.1 1135.5L704.1 1135.3L708.1 1135.2L712.1 1135L716.1 1134.9L720.1 1134.7L724.1 1134.5L728.1 1134.4L732.1 1134.3L736.1 1134.2L740.1 1134L744.1 1133.9L748.1 1133.8L752.1 1133.5L756.1 1133.1L760.1 1132.7L764.1 1132.3L768 1131.9L772 1131.5L776 1131L779.9 1130.3L783.8 1129.5L787.8 1128.7L791.7 1127.8L795.5 1126.9L799.4 1125.9L803.3 1124.9L807.2 1123.9L811.1 1122.9L814.9 1121.8L818.7 1120.7L822.5 1119.4L826.4 1118.2L830.2 1117L834 1115.8L837.8 1114.5L841.5 1113.2L845.3 1111.8L849 1110.4L852.8 1108.9L856.4 1107.4L860 1105.6L863.4 1103.5L866.8 1101.4L870.1 1099.2L873.3 1096.8L876.3 1094.1L879.1 1091.4L882 1088.5L884.8 1085.7L887.5 1082.8L890.1 1079.7L892.6 1076.6L895.1 1073.4L897.5 1070.3L900 1067.1L902.4 1063.9L904.8 1060.7L907.1 1057.4L909.3 1054.1L911.4 1050.7L913.6 1047.3L915.7 1044L917.9 1040.6L920 1037.2L922.2 1033.8L924.4 1030.5L926.6 1027.2L928.8 1023.8L931 1020.5L933.2 1017.2L935.5 1013.9L937.8 1010.6L940.2 1007.5L942.8 1004.4L945.4 1001.3L948 998.3L950.6 995.3L953.3 992.3L956.1 989.4L958.9 986.6L961.7 983.8L964.6 980.9L967.3 978L970 975.1L972.7 972.1L975.3 969L977.9 966L980.4 962.9L983 959.8L985.4 956.6L987.7 953.4L990 950.1L992.4 946.9L994.8 943.7L997.2 940.5L999.7 937.4L1002.3 934.3L1004.9 931.3L1007.5 928.2L1010.1 925.2L1012.8 922.2L1015.5 919.3L1018.1 916.3L1020.7 913.2L1023.1 910.1L1025.5 906.8L1027.8 903.6L1030.1 900.3L1032.2 896.9L1034.2 893.5L1036.2 890L1038.2 886.5L1040.2 883L1042.1 879.5L1044 876L1045.9 872.4L1047.7 868.9L1049.6 865.4L1051.5 861.8L1053.4 858.3L1055.2 854.8L1057.1 851.2L1059 847.7L1060.8 844.1L1062.7 840.6L1064.6 837.1L1066.5 833.6L1068.4 830.1L1070.4 826.5L1072.3 823L1074.2 819.5L1076.1 816L1078 812.5L1080 809L1081.9 805.5L1083.8 801.9L1085.7 798.4L1087.6 794.9L1089.5 791.4L1091.4 787.8L1093.2 784.3L1095.1 780.8L1097 777.3L1098.9 773.8L1100.8 770.2L1102.7 766.7L1104.6 763.2L1106.5 759.7L1108.4 756.1L1110.3 752.6L1112.2 749.1L1114.1 745.6L1116 742L1117.9 738.5L1119.9 735L1121.8 731.5L1123.7 728L1125.6 724.5L1127.5 721L1129.4 717.4L1131.3 713.9L1133.1 710.3L1134.9 706.7L1136.7 703.2L1138.4 699.6L1140.1 696L1141.8 692.3L1143.5 688.7L1145.1 685L1146.8 681.4L1148.4 677.7L1150 674.1L1151.6 670.4L1153.3 666.8L1154.9 663.1L1156.5 659.4L1158 655.7L1159.5 652L1161 648.3L1162.3 644.6L1163.7 640.8L1164.9 637L1166.2 633.2L1167.4 629.4L1168.5 625.5L1169.6 621.7L1170.7 617.8L1171.8 614L1172.8 610.1L1173.8 606.3L1174.8 602.4L1175.7 598.5L1176.6 594.6L1177.4 590.7L1178.2 586.7L1179 582.8L1179.8 578.9L1180.6 575L1181.4 571L1182.1 567.1L1182.9 563.2L1183.7 559.3L1184.4 555.3L1185.1 551.4L1185.9 547.5L1186.6 543.5L1187.3 539.6L1188 535.6L1188.8 531.7L1189.5 527.8L1190.2 523.8L1191 519.9L1191.7 516L1192.4 512L1193.2 508.1L1193.9 504.2L1194.6 500.2L1195.4 496.3L1196.1 492.4L1196.8 488.4L1197.6 484.5L1198.3 480.6L1199 476.6L1199.7 472.7L1200.4 468.7L1201.1 464.8L1201.8 460.9L1202.5 456.9L1203.1 453L1203.8 449L1204.5 445.1L1205.2 441.1L1205.9 437.2L1206.5 433.3L1207.2 429.3L1207.9 425.4L1208.5 421.4L1209.2 417.5L1209.8 413.5L1210.5 409.6L1211.1 405.6L1211.7 401.7L1212.4 397.7L1213 393.8L1213.6 389.8L1214.2 385.8L1214.8 381.9L1215.4 377.9L1216 374L1216.6 370L1217.2 366.1L1217.7 362.1L1218.3 358.1L1218.9 354.2L1219.5 350.2L1220 346.2L1220.6 342.3L1221.1 338.3L1221.7 334.4L1222.2 330.4L1222.8 326.4L1223.3 322.5L1223.8 318.5L1224.4 314.5L1224.9 310.6L1225.4 306.6L1226 302.6L1226.5 298.7L1227 294.7L1227.5 290.7L1228 286.8L1228.5 282.8L1229.1 278.8L1229.6 274.8L1230.1 270.9L1230.6 266.9L1231.2 262.9L1231.7 259L1232.2 255L1232.8 251.1L1233.4 247.1L1234.1 243.2L1234.7 239.2L1235.4 235.3L1236 231.3L1236.6 227.3L1237.3 223.4L1237.9 219.4L1238.6 215.5L1239.2 211.5L1239.9 207.6L1240.7 203.7L1241.6 199.8L1242.4 195.9L1243.3 192L1244.1 188L1245 184.1L1245.8 180.2L1246.6 176.3L1247.5 172.4L1248.3 168.5L1249 164.5L1249.6 160.6L1250.2 156.6L1250.8 152.7L1251.4 148.7L1252 144.8L1252.7 140.8L1253.5 136.9L1254.3 133L1255.1 129.1L1255.9 125.1L1256.7 121.2L1257.6 117.3L1258.6 113.4L1259.6 109.6L1260.5 105.7L1261.5 101.8L1262.5 97.9L1263.8 94.1L1265 90.3L1266.3 86.5L1267.6 82.7L1269.1 79L1270.8 75.4L1272.8 72L1275.5 69.2L1278.5 68.8L1281.2 71.5L1283.2 74.9L1284.8 78.6L1286.1 82.4L1287.2 86.2L1288.2 90.1L1289.2 94L1290.2 97.8L1291.1 101.7L1292 105.6L1292.9 109.5L1293.7 113.4L1294.6 117.4L1295.5 121.3L1296.3 125.2L1297 129.1L1297.6 133.1L1298.2 137L1298.8 141L1299.4 144.9L1300 148.9L1300.6 152.9L1301.2 156.8L1301.8 160.8L1302.4 164.7L1303 168.7L1303.6 172.6L1304.2 176.6L1304.8 180.6L1305.4 184.5L1306 188.5L1306.6 192.4L1307.1 196.4L1307.7 200.3L1308.3 204.3L1308.9 208.3L1309.5 212.2L1310.1 216.2L1310.7 220.1L1311.3 224.1L1311.9 228L1312.6 232L1313.3 235.9L1314 239.9L1314.7 243.8L1315.4 247.8L1316 251.7L1316.7 255.6L1317.4 259.6L1318 263.5L1318.7 267.5L1319.3 271.4L1319.9 275.4L1320.6 279.3L1321.2 283.3L1321.9 287.2L1322.5 291.2L1323.2 295.1L1323.9 299.1L1324.7 303L1325.5 306.9L1326.3 310.8L1327.1 314.8L1328 318.7L1328.8 322.6L1329.6 326.5L1330.3 330.4L1331 334.4L1331.7 338.3L1332.4 342.3L1333 346.2L1333.7 350.2L1334.3 354.1L1334.9 358.1L1335.5 362L1336.1 366L1336.6 369.9L1337.1 373.9L1337.6 377.9L1338.1 381.9L1338.5 385.8L1338.9 389.8L1339.3 393.8L1339.7 397.8L1340.1 401.8L1340.5 405.7L1340.9 409.7L1341.4 413.7L1341.8 417.7L1342.2 421.7L1342.7 425.6L1343.2 429.6L1343.7 433.6L1344.2 437.5L1344.8 441.5L1345.3 445.5L1345.8 449.4L1346.4 453.4L1346.9 457.4L1347.5 461.3L1348 465.3L1348.5 469.3L1349.1 473.2L1349.6 477.2L1350.2 481.2L1350.8 485.1L1351.4 489.1L1352 493L1352.6 497L1353.1 501L1353.7 504.9L1354.3 508.9L1354.9 512.8L1355.5 516.8L1356.1 520.7L1356.7 524.7L1357.3 528.6L1358 532.6L1358.6 536.6L1359.3 540.5L1359.9 544.4L1360.6 548.4L1361.2 552.3L1361.9 556.3L1362.5 560.2L1363.2 564.2L1363.9 568.1L1364.6 572.1L1365.4 576L1366.2 579.9L1367 583.8L1367.8 587.7L1368.7 591.6L1369.6 595.6L1370.4 599.5L1371.3 603.4L1372.2 607.3L1373.1 611.2L1374 615.1L1374.9 619L1375.8 622.9L1376.7 626.8L1377.7 630.6L1378.6 634.5L1379.6 638.4L1380.6 642.3L1381.5 646.2L1382.5 650.1L1383.5 653.9L1384.5 657.8L1385.4 661.7L1386.4 665.6L1387.4 669.5L1388.3 673.4L1389.3 677.2L1390.3 681.1L1391.2 685L1392.2 688.9L1393.2 692.8L1394.1 696.7L1395.1 700.5L1396 704.4L1397 708.3L1397.9 712.2L1398.8 716.1L1399.8 720L1400.7 723.9L1401.6 727.8L1402.5 731.7L1403.5 735.6L1404.4 739.5L1405.4 743.4L1406.3 747.2L1407.3 751.1L1408.3 755L1409.2 758.9L1410.2 762.8L1411.2 766.6L1412.2 770.5L1413.3 774.4L1414.4 778.2L1415.5 782.1L1416.6 785.9L1417.6 789.8L1418.7 793.6L1419.8 797.5L1421 801.3L1422.1 805.2L1423.2 809L1424.3 812.8L1425.5 816.7L1426.8 820.4L1428.2 824.2L1429.7 827.9L1431.1 831.7L1432.5 835.4L1433.9 839.1L1435.4 842.9L1436.8 846.6L1438.3 850.3L1439.8 854L1441.3 857.7L1442.8 861.5L1444.2 865.2L1445.5 869L1446.7 872.8L1447.9 876.6L1449 880.5L1450.2 884.3L1451.3 888.1L1452.4 892L1453.4 895.8L1454.4 899.7L1455.4 903.6L1456.4 907.5L1457.3 911.4L1458.3 915.3L1459.3 919.1L1460.1 923L1460.9 927L1461.7 930.9L1462.5 934.8L1463.2 938.7L1464 942.7L1464.7 946.6L1465.5 950.5L1466.2 954.5L1467 958.4L1467.8 962.3L1468.5 966.3L1469.3 970.2L1470 974.1L1470.8 978L1471.5 982L1472.3 985.9L1473.2 989.8L1474.2 993.7L1475.1 997.6L1476.1 1001.5L1477.1 1005.3L1478.1 1009.2L1479.4 1013L1481.2 1016.5L1483.2 1020L1485.5 1023L1489.1 1024L1492.6 1022.8L1495.9 1020.5L1499.2 1018.3L1502.5 1016L1505.8 1013.7L1509.4 1012.4L1513.4 1012L1517.4 1011.7L1521.4 1011.6L1525.4 1011.9L1529.4 1012.1L1533.4 1012.4L1537.3 1012.7L1541.3 1013.1L1545.3 1013.5L1549.3 1013.8L1553.3 1013.8L1557.3 1013.6L1561.3 1013.4L1565.2 1013L1569.2 1012.3L1573.1 1011.5L1577 1010.7L1580.9 1009.8L1584.8 1009L1588.7 1008.2L1592.7 1007.3L1596.6 1006.4L1600.4 1005.5L1604.3 1004.4L1608.1 1003.2L1611.9 1002L1615.8 1000.8L1619.6 999.6L1623.4 998.4L1627.2 997.2L1631 996L1634.8 994.8L1638.6 993.5L1642.3 992L1645.9 990.3L1649.5 988.5L1653.1 986.8L1656.8 985.3L1660.6 983.9L1664.4 982.7L1668.2 981.5L1672.1 980.5L1676 979.8L1679.9 979.1L1683.9 978.5L1687.8 978.1L1691.8 977.7L1695.8 977.3L1699.8 976.8L1703.7 976.2L1707.6 975.4L1711.4 974.6L1714.3 974L1715.8 973.9L1717.3 973.9L1720.3 973.5L1724.1 973L1728.1 972.4L1732 971.9L1736 971.6L1740 971.5L1744 971.5L1748 971.5L1752 971.6L1756 971.7L1760 972L1764 972.4L1768 972.7L1771.9 973.1L1775.9 973.4L1779.9 973.6L1783.9 973.9L1787.9 974.1L1791.9 974.5L1795.9 974.9L1799.8 975.6L1803.7 976.3L1807.7 977.1L1811.6 977.8L1815.5 978.7L1819.4 979.6L1823.3 980.6L1827.2 981.5L1831.1 982.5L1834.9 983.5L1838.8 984.5L1842.7 985.4L1846.6 986.4L1850.5 987.4L1854.3 988.4L1858.2 989.6L1862 990.7L1865.8 991.9L1869.6 993.1L1873.4 994.4L1877.2 995.7L1880.9 997.1L1884.7 998.5L1888.4 999.9L1892.2 1001.2L1896.1 1002.3L1900 1003.2L1903.9 1004L1907.8 1004.8L1911.7 1005.6L1915.6 1006.5L1919.5 1007.3L1923.4 1008.4L1927.2 1009.5L1931.1 1010.6L1934.9 1011.8L1938.7 1012.9L1942.6 1014L1946.4 1015.1L1950.3 1016.1L1954.2 1017L1958.1 1018L1962 1019L1965.8 1020L1969.7 1021L1973.5 1022.1L1977.4 1023.3L1981.2 1024.4L1985.1 1025.6L1988.9 1026.7L1992.7 1027.8L1996.6 1028.9L2000.4 1030L2004.3 1031.1L2008.2 1032.1L2012 1033.2L2015.9 1034.2L2019.7 1035.4L2023.5 1036.7L2027.2 1038.2L2030.9 1039.8L2034.5 1041.3L2038.3 1042.8L2042 1044L2045.9 1045.2L2049.7 1046.2L2053.6 1047.1L2057.6 1047.8L2061.5 1048.2L2065.5 1048.6L2069.5 1048.9L2073.5 1049L2077.5 1049L2079.5 1049" stroke="#a67014"/>
</g>
<text class="tk" x="210" y="1169.8" text-anchor="end">0</text>
<text class="tk" x="210" y="948.9" text-anchor="end">20</text>
<text class="tk" x="210" y="728" text-anchor="end">40</text>
<text class="tk" x="210" y="507.1" text-anchor="end">60</text>
<text class="tk" x="210" y="286.2" text-anchor="end">80</text>
<text class="tk" x="210" y="65.3" text-anchor="end">100</text>
<text class="tk" x="320.8" y="1300.6" text-anchor="middle">50</text>
<text class="tk" x="480.8" y="1300.6" text-anchor="middle">100</text>
<text class="tk" x="640.8" y="1300.6" text-anchor="middle">150</text>
<text class="tk" x="800.8" y="1300.6" text-anchor="middle">200</text>
<text class="tk" x="960.8" y="1300.6" text-anchor="middle">250</text>
<text class="tk" x="1120.8" y="1300.6" text-anchor="middle">300</text>
<text class="tk" x="1280.8" y="1300.6" text-anchor="middle">350</text>
<text class="tk" x="1440.8" y="1300.6" text-anchor="middle">400</text>
<text class="tk" x="1600.8" y="1300.6" text-anchor="middle">450</text>
<text class="tk" x="1760.8" y="1300.6" text-anchor="middle">500</text>
<text class="tk" x="1920.8" y="1300.6" text-anchor="middle">550</text>
<text class="tk" x="2080.8" y="1300.6" text-anchor="middle">600</text>
<text class="ax" x="907" y="1405.5">Temperature (<tspan class="rg" font-size="102" dx="3" dy="-3">°</tspan><tspan dx="0.8" dy="3">C)</tspan></text>
<text class="ay" transform="translate(40.5 243) rotate(90) scale(0.941 1)">Derivative weight (%/°C)</text>
<rect x="812" y="81.7" width="281" height="171.6" fill="#fff" stroke="#000" stroke-width="5.2" stroke-linejoin="round"/>
<text class="dtg" x="951.5" y="205.3" text-anchor="middle">DTG</text>
<path d="M1592 103.8H1724" stroke="#ff0584" stroke-width="8.2" stroke-linecap="round" fill="none"/>
<text class="lg" x="1737" y="123">Canola</text>
<path d="M1592 175.9H1724" stroke="#2ca628" stroke-width="8.2" stroke-linecap="round" fill="none"/>
<text class="lg" x="1737" y="195.1">Sweet clover</text>
<path d="M1592 248H1724" stroke="#0404ff" stroke-width="8.2" stroke-linecap="round" fill="none"/>
<text class="lg" x="1737" y="267.2">Hemp</text>
<path d="M1592 320.1H1724" stroke="#a67014" stroke-width="8.2" stroke-linecap="round" fill="none"/>
<text class="lg" x="1737" y="339.3">Flax</text>
</svg>
</body>
</html>
